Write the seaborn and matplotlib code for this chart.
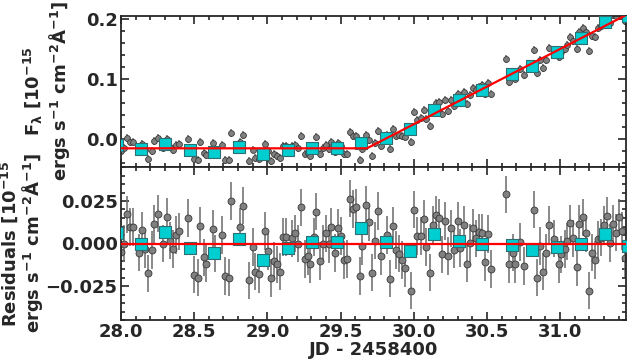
import numpy as np
import matplotlib
matplotlib.use("Agg")
import matplotlib.pyplot as plt
import seaborn as sns
from matplotlib.ticker import MultipleLocator

# residuals of the light curve (JD - 2458400)
jd = [28.002, 28.023, 28.043, 28.062, 28.084, 28.123, 28.146, 28.164, 28.187, 28.21,
      28.228, 28.251, 28.29, 28.313, 28.336, 28.354, 28.377, 28.397, 28.461, 28.5,
      28.523, 28.541, 28.564, 28.582, 28.626, 28.644, 28.69, 28.708, 28.735, 28.753,
      28.815, 28.833, 28.872, 28.899, 28.918, 28.94, 28.981, 29.004, 29.025, 29.043,
      29.066, 29.084, 29.105, 29.127, 29.169, 29.191, 29.21, 29.233, 29.255, 29.276,
      29.294, 29.317, 29.335, 29.358, 29.379, 29.399, 29.42, 29.438, 29.461, 29.484,
      29.504, 29.523, 29.545, 29.564, 29.584, 29.607, 29.63, 29.648, 29.671, 29.694,
      29.712, 29.735, 29.758, 29.774, 29.82, 29.838, 29.858, 29.877, 29.9, 29.922,
      29.941, 29.984, 30.005, 30.025, 30.048, 30.071, 30.087, 30.11, 30.132, 30.151,
      30.174, 30.192, 30.215, 30.235, 30.256, 30.276, 30.299, 30.317, 30.34, 30.361,
      30.383, 30.402, 30.424, 30.443, 30.466, 30.486, 30.507, 30.528, 30.63, 30.653,
      30.676, 30.694, 30.728, 30.756, 30.82, 30.842, 30.865, 30.881, 30.904, 30.922,
      30.961, 30.989, 31.007, 31.03, 31.048, 31.069, 31.087, 31.112, 31.132, 31.155,
      31.174, 31.194, 31.217, 31.24, 31.258, 31.281, 31.299, 31.322, 31.342, 31.363,
      31.384, 31.402, 31.422, 31.445]
resid = [-0.005, 0.0, 0.0172, 0.0098, 0.0098, -0.0053, 0.0078, -0.0033, -0.0176, -0.0039,
         0.0114, 0.0176, 0.0, 0.0157, 0.0016, -0.0033, 0.0049, 0.0071, 0.0149, -0.0184,
         -0.020, 0.0102, -0.0082, -0.0118, 0.0088, -0.0059, 0.0049, -0.0192, -0.020, 0.0251,
         0.0098, 0.0223, -0.0216, -0.002, -0.0165, -0.018, 0.0074, -0.0047, -0.0204, -0.0102,
         -0.0122, -0.0165, 0.0039, 0.0039, 0.0031, 0.0059, 0.0, 0.0212, -0.0092, -0.0076,
         -0.0122, 0.0039, 0.0188, -0.0102, 0.0, 0.0059, -0.0004, 0.0098, -0.0055, 0.0094,
         0.0043, -0.0098, -0.0092, 0.0263, 0.0202, 0.0212, -0.019, -0.0016, 0.0227, 0.0125,
         -0.0172, 0.0016, 0.0192, -0.0073, 0.0049, -0.0206, 0.0104, -0.0039, -0.0059, -0.0098,
         -0.0145, -0.0278, 0.02, 0.0045, 0.0045, 0.0147, -0.002, -0.0171, 0.011, 0.0169,
         0.0149, -0.0063, 0.0133, -0.0074, 0.009, -0.0037, 0.0133, -0.0027, 0.0108, -0.0118,
         0.0004, 0.0094, 0.0031, 0.0065, 0.0063, -0.0108, 0.0055, -0.0151, 0.029, -0.0122,
         -0.0053, -0.0122, 0.0008, -0.0133, 0.02, -0.02, -0.0014, -0.0165, -0.0057, 0.0108,
         0.0029, -0.0122, -0.0063, -0.0033, 0.0012, 0.0118, 0.0031, -0.0141, 0.0114, 0.0153,
         0.0059, -0.0278, -0.0053, -0.0098, 0.0025, 0.0035, 0.011, 0.0163, 0.0002, 0.0114,
         0.0063, 0.0153, 0.0074, -0.0088]
resid_err = 0.011

# 4-hour bins
bin_jd = [27.97, 28.137, 28.303, 28.468, 28.635, 28.803, 28.973, 29.139, 29.306, 29.473,
          29.637, 29.808, 29.973, 30.139, 30.306, 30.464, 30.671, 30.808, 30.977, 31.144,
          31.308, 31.463]
bin_resid = [0.006, -0.0004, 0.0070, -0.0024, -0.0053, 0.0025, -0.0096, -0.0029, 0.0008, 0.0006,
             0.009, 0.001, -0.0043, 0.0055, 0.0016, -0.0004, -0.0008, -0.0037, -0.0018, 0.0,
             0.0055, -0.0012]

# flat + linear rise model
model_jd = [28.0, 29.68, 31.45]
model_flux = [-0.015, -0.015, 0.206]

flux = np.interp(jd, model_jd, model_flux) + np.array(resid)
bin_flux = np.interp(bin_jd, model_jd, model_flux) + np.array(bin_resid)

sns.set_style("ticks")
FS = 13
plt.rcParams.update({
    "font.family": ["DejaVu Sans"],
    "font.weight": "bold",
    "axes.labelweight": "bold",
    "mathtext.default": "bf",
    "font.size": FS,
    "axes.linewidth": 1.3,
})

W, H = 631, 359
fig = plt.figure(figsize=(W / 100, H / 100), dpi=100)
ax1 = fig.add_axes([121 / W, 1 - 167 / H, 505 / W, 151 / H])
ax2 = fig.add_axes([121 / W, 1 - 320 / H, 505 / W, 153 / H])

pt_style = dict(fmt="o", mfc="#808080", mec="#383838", mew=0.6, ecolor="#6a6a6a",
                elinewidth=1.1, capsize=0, zorder=2)
sq_style = dict(marker="s", s=85, color="#00CED1", edgecolor="#2e6e70", linewidth=0.8,
                zorder=3, legend=False)

ax1.errorbar(jd, flux, yerr=resid_err * 0.6, ms=4.2, **pt_style)
sns.scatterplot(x=bin_jd, y=bin_flux, ax=ax1, **sq_style)
sns.lineplot(x=model_jd, y=model_flux, ax=ax1, color="red", lw=1.6, estimator=None, zorder=4)

ax2.errorbar(jd, resid, yerr=resid_err, ms=5, **pt_style)
sns.scatterplot(x=bin_jd, y=bin_resid, ax=ax2, **sq_style)
ax2.axhline(0, color="red", lw=1.6, zorder=4)

ax1.set_xlim(28.0, 31.45)
ax2.set_xlim(28.0, 31.45)
ax1.set_ylim(-0.046, 0.2045)
ax2.set_ylim(-0.045, 0.045)

ax1.yaxis.set_major_locator(MultipleLocator(0.1))
ax1.yaxis.set_minor_locator(MultipleLocator(0.02))
ax2.yaxis.set_major_locator(MultipleLocator(0.025))
ax2.yaxis.set_minor_locator(MultipleLocator(0.005))
for ax in (ax1, ax2):
    ax.xaxis.set_major_locator(MultipleLocator(0.5))
    ax.xaxis.set_minor_locator(MultipleLocator(0.1))
    ax.tick_params(which="both", direction="in", top=True, right=True, width=1.2,
                   labelsize=FS, pad=2.5)
    ax.tick_params(which="major", length=6)
    ax.tick_params(which="minor", length=3)
    for lab in ax.get_xticklabels() + ax.get_yticklabels():
        lab.set_fontweight("bold")
ax1.tick_params(labelbottom=False)

ax1.set_ylabel("F$_λ$ [10$^{-15}$\nergs s$^{-1}$ cm$^{-2}$Å$^{-1}$]", fontsize=FS,
               linespacing=1.1)
ax2.set_ylabel("Residuals [10$^{-15}$\nergs s$^{-1}$ cm$^{-2}$Å$^{-1}$]", fontsize=FS,
               linespacing=1.0)
ax2.set_xlabel("JD - 2458400", fontsize=FS)
# label anchors: right edge of the rotated y labels, top edge of the x label
ax1.yaxis.set_label_coords(-0.097, 0.5)
ax2.yaxis.set_label_coords(-0.150, 0.5)
ax2.xaxis.set_label_coords(0.5, -0.135)

fig.savefig("out.png", dpi=100)
